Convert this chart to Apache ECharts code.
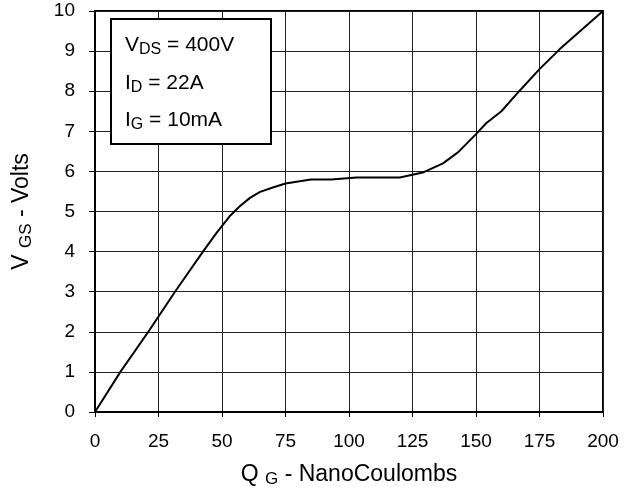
<!DOCTYPE html>
<html>
<head>
<meta charset="utf-8">
<script src="https://cdn.jsdelivr.net/npm/echarts@6/dist/echarts.min.js"></script>
<style>
  html, body { margin: 0; padding: 0; background: #fff; }
  #chart { width: 640px; height: 490px; }
</style>
</head>
<body>
<div id="chart"></div>
<script>
// gate charge curve
const qg = [0, 10, 21, 31.5, 42.5, 48, 53, 57, 61, 65, 70, 75, 85, 93, 103, 120, 129, 137, 143, 150, 154, 160, 167, 175, 183, 200]
const vgs = [0, 1, 2, 3, 4, 4.48, 4.88, 5.13, 5.34, 5.49, 5.6, 5.7, 5.8, 5.8, 5.85, 5.85, 5.97, 6.2, 6.48, 6.93, 7.2, 7.5, 8.0, 8.55, 9.05, 10]
const xTicks = [0, 25, 50, 75, 100, 125, 150, 175, 200]
const yTicks = [0, 1, 2, 3, 4, 5, 6, 7, 8, 9, 10]
const conditions = [
  ['V', 'DS', ' = 400V'],
  ['I', 'D', ' = 22A'],
  ['I', 'G', ' = 10mA']
]

const font = '"Liberation Sans", Arial, sans-serif'
const chart = echarts.init(document.getElementById('chart'))

const subRich = (size, sub, pad) => ({
  a: { fontSize: size, fontFamily: font, color: '#000' },
  s: { fontSize: sub, fontFamily: font, color: '#000', padding: [pad, 0, 0, 0] }
})

const option = {
  animation: false,
  backgroundColor: '#fff',
  grid: {
    left: 95, right: 37, top: 11, bottom: 78,
    outerBoundsMode: 'none',
    show: true, borderColor: '#000', borderWidth: 2
  },
  xAxis: {
    type: 'value',
    min: 0, max: 200, interval: 25,
    name: '{a|Q }{s|G}{a| - NanoCoulombs}',
    nameLocation: 'middle',
    nameGap: 49,
    nameTextStyle: { rich: subRich(23, 17, 10) },
    axisLine: { onZero: false, lineStyle: { color: '#000', width: 2 } },
    axisTick: { show: true, length: 5, lineStyle: { color: '#000' } },
    axisLabel: {
      margin: 20, color: '#000', fontSize: 19, fontFamily: font,
      formatter: v => xTicks.includes(v) ? String(v) : ''
    },
    splitLine: { show: true, lineStyle: { color: '#222', width: 1 } }
  },
  yAxis: {
    type: 'value',
    min: 0, max: 10, interval: 1,
    name: '{a|V }{s|GS}{a| - Volts}',
    nameLocation: 'middle',
    nameGap: 60,
    nameTextStyle: { rich: subRich(23, 17, 10) },
    axisLine: { show: true, lineStyle: { color: '#000', width: 2 } },
    axisTick: { show: true, length: 6, lineStyle: { color: '#000' } },
    axisLabel: {
      margin: 20, color: '#000', fontSize: 19, fontFamily: font,
      formatter: v => yTicks.includes(v) ? String(v) : ''
    },
    splitLine: { show: true, lineStyle: { color: '#222', width: 1 } }
  },
  graphic: [
    {
      type: 'rect',
      left: 110, top: 18,
      shape: { width: 160, height: 125 },
      style: { fill: '#fff', stroke: '#000', lineWidth: 2 },
      z: 100
    },
    ...conditions.map((c, i) => ({
      type: 'text',
      left: 125, top: 35 + i * 37.5,
      z: 101,
      style: {
        text: '{a|' + c[0] + '}{s|' + c[1] + '}{a|' + c[2] + '}',
        rich: subRich(21, 16, 9)
      }
    }))
  ],
  series: [
    {
      type: 'line',
      data: qg.map((x, i) => [x, vgs[i]]),
      showSymbol: false,
      smooth: false,
      lineStyle: { color: '#000', width: 2 },
      z: 5
    }
  ]
}

chart.setOption(option)
</script>
</body>
</html>
